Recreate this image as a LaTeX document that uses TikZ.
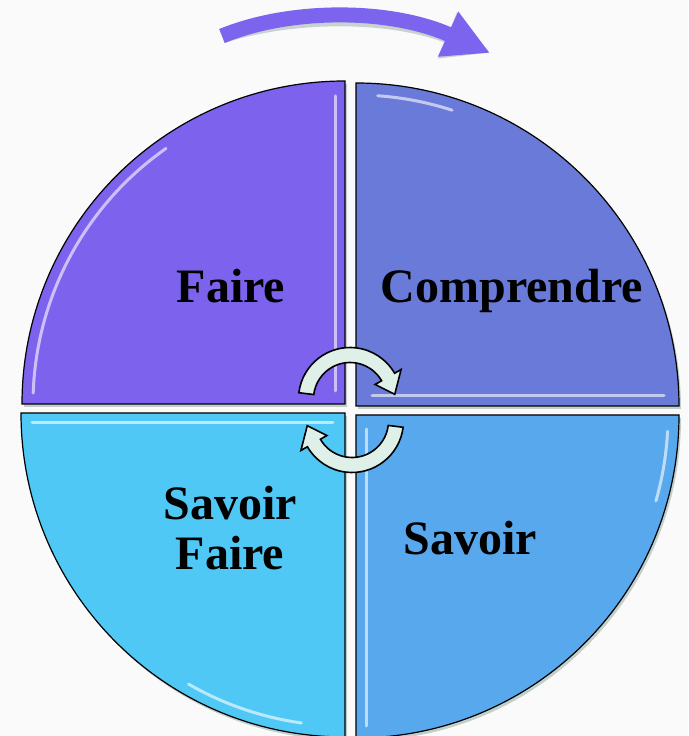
\documentclass[tikz,border=0pt]{standalone}
\usepackage{fontspec}
\setmainfont{Liberation Serif}
\usetikzlibrary{arrows.meta,shadows}

\definecolor{faireviolet}{RGB}{125,98,238}
\definecolor{comprbleu}{RGB}{106,122,216}
\definecolor{sfciel}{RGB}{80,200,245}
\definecolor{savazur}{RGB}{88,168,238}
\definecolor{cycleviolet}{RGB}{124,100,238}
\definecolor{cyclevert}{RGB}{222,240,232}
\definecolor{ombre}{RGB}{140,165,155}

\tikzset{
  quart/.style={draw=black,line width=1.2pt,
    drop shadow={shadow xshift=2pt,shadow yshift=-3pt,fill=ombre,opacity=.5}},
  reflet/.style={white,opacity=.6,line width=3pt,line cap=round},
  mot/.style={font=\fontsize{48}{50}\selectfont\bfseries,inner sep=0pt},
  fleche/.style={draw=black,line width=1.6pt,fill=cyclevert},
}

\begin{document}
\begin{tikzpicture}[x=1pt,y=1pt]
  \useasboundingbox (0,0) rectangle (688,736);
  \fill[black!2] (0,0) rectangle (688,736);
  \clip (0,0) rectangle (688,736);

  % top arrow
  \coordinate (debut) at (222,700);
  \coordinate (fin) at (490,683);
  \draw[line width=15pt,draw=ombre,opacity=.45,-{Triangle[length=46pt,width=46pt]},
    shift={(2,-5)}] (debut) .. controls (290,728) and (390,728) .. (fin);
  \draw[line width=15pt,draw=cycleviolet,-{Triangle[length=46pt,width=46pt]}]
    (debut) .. controls (290,728) and (390,728) .. (fin);

  % quadrants
  \draw[quart,fill=faireviolet] (345,332) -- (22,332) arc[start angle=180,end angle=90,radius=323] -- cycle;
  \draw[quart,fill=comprbleu] (356,330) -- (356,653) arc[start angle=90,end angle=0,radius=323] -- cycle;
  \draw[quart,fill=sfciel] (345,323) -- (21,323) arc[start angle=180,end angle=270,radius=324] -- cycle;
  \draw[quart,fill=savazur] (356,321) -- (356,-2) arc[start angle=270,end angle=360,radius=323] -- cycle;

  % highlights
  \draw[reflet,shift={(345,332)}] (178:312) arc[start angle=178,end angle=125,radius=312];
  \draw[reflet] (335,345) -- (335,640);
  \draw[reflet,shift={(356,330)}] (86:311) arc[start angle=86,end angle=72,radius=311];
  \draw[reflet] (372,340) -- (664,340);
  \draw[reflet] (32,313) -- (333,313);
  \draw[reflet,shift={(345,323)}] (262:313) arc[start angle=262,end angle=240,radius=313];
  \draw[reflet] (366,307) -- (366,10);
  \draw[reflet,shift={(356,321)}] (-3:312) arc[start angle=-3,end angle=-16,radius=312];

  % labels
  \node[mot,anchor=base] (faire) at (231,433) {Faire};
  \node[mot,anchor=base] (comprendre) at (512,433) {Comprendre};
  \node[mot,align=center] (savoirfaire) at (230,208) {Savoir\\Faire};
  \node[mot,anchor=base] (savoir) at (470,181) {Savoir};

  % cycle arrows in the middle
  \begin{scope}[shift={(350,337)}]
    \draw[fleche] (173:51.5) arc[start angle=173,end angle=30,radius=51.5] -- (30:59) -- (6:45)
      -- (30:29) -- (30:36.5) arc[start angle=30,end angle=173,radius=36.5] -- cycle;
  \end{scope}
  \begin{scope}[shift={(352,315)}]
    \draw[fleche] (-7:51.5) arc[start angle=-7,end angle=-150,radius=51.5] -- (-150:59) -- (-174:45)
      -- (-150:29) -- (-150:36.5) arc[start angle=-150,end angle=-7,radius=36.5] -- cycle;
  \end{scope}
\end{tikzpicture}
\end{document}
